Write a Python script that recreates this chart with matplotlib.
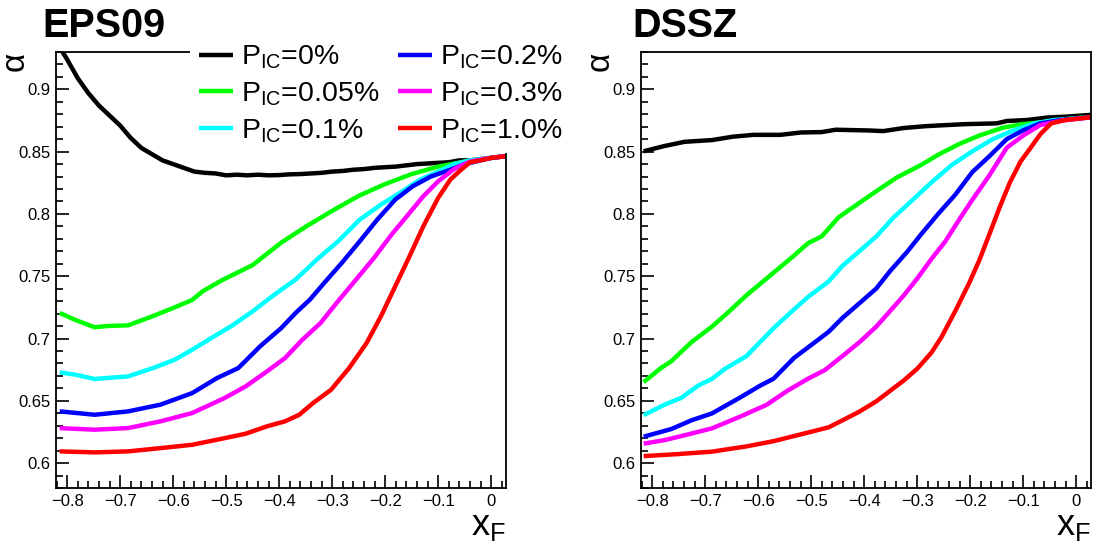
import numpy as np
import matplotlib
matplotlib.use("Agg")
import matplotlib.pyplot as plt
from matplotlib.ticker import MultipleLocator, FuncFormatter

plt.rcParams['font.family'] = ['Liberation Sans', 'DejaVu Sans']
plt.rcParams['mathtext.fontset'] = 'custom'
plt.rcParams['mathtext.rm'] = 'Liberation Sans'
plt.rcParams['mathtext.it'] = 'Liberation Sans:italic'
plt.rcParams['mathtext.bf'] = 'Liberation Sans:bold'
plt.rcParams['mathtext.default'] = 'regular'

# ---- data ----
labels = ["P$_{IC}$=0%", "P$_{IC}$=0.05%", "P$_{IC}$=0.1%",
          "P$_{IC}$=0.2%", "P$_{IC}$=0.3%", "P$_{IC}$=1.0%"]
colors = ["#000000", "#00ff00", "#00ffff", "#0000ff", "#ff00ff", "#ff0000"]

# EPS09 panel
eps_x_0 = [-0.82, -0.81, -0.80, -0.78, -0.76, -0.74, -0.72, -0.70, -0.68, -0.66, -0.64,
           -0.62, -0.60, -0.58, -0.56, -0.54, -0.52, -0.50, -0.48, -0.46, -0.44, -0.42,
           -0.40, -0.38, -0.36, -0.34, -0.32, -0.30, -0.28, -0.26, -0.24, -0.22, -0.20,
           -0.18, -0.16, -0.14, -0.12, -0.10, -0.08, -0.06, -0.04, -0.02, 0.0, 0.02, 0.03]
eps_y_0 = [0.938, 0.931, 0.924, 0.909, 0.897, 0.887, 0.879, 0.871, 0.861, 0.853, 0.848,
           0.843, 0.840, 0.837, 0.834, 0.833, 0.8325, 0.831, 0.8315, 0.831, 0.8315, 0.831,
           0.8312, 0.8318, 0.832, 0.8325, 0.833, 0.834, 0.8345, 0.8355, 0.836, 0.837, 0.8375,
           0.838, 0.839, 0.840, 0.8405, 0.841, 0.8415, 0.843, 0.843, 0.844, 0.845, 0.846, 0.8465]

eps_x_005 = [-0.814, -0.785, -0.748, -0.725, -0.685, -0.638, -0.600, -0.564, -0.544, -0.507,
             -0.483, -0.450, -0.396, -0.349, -0.302, -0.250, -0.200, -0.150, -0.100, -0.050,
             0.0, 0.03]
eps_y_005 = [0.7205, 0.715, 0.709, 0.710, 0.7106, 0.718, 0.7245, 0.731, 0.738, 0.747,
             0.752, 0.759, 0.777, 0.790, 0.802, 0.8145, 0.824, 0.832, 0.838, 0.842,
             0.845, 0.8465]

eps_x_01 = [-0.814, -0.785, -0.748, -0.725, -0.685, -0.638, -0.597, -0.564, -0.523, -0.490,
            -0.450, -0.409, -0.369, -0.329, -0.289, -0.248, -0.208, -0.168, -0.134, -0.100,
            -0.070, -0.040, 0.0, 0.03]
eps_y_01 = [0.6728, 0.671, 0.6675, 0.6683, 0.6696, 0.6763, 0.683, 0.691, 0.7017, 0.710,
            0.7218, 0.7352, 0.7473, 0.7633, 0.778, 0.7954, 0.8075, 0.818, 0.8276, 0.834,
            0.840, 0.843, 0.845, 0.8465]

eps_x_02 = [-0.814, -0.748, -0.685, -0.624, -0.564, -0.517, -0.477, -0.436, -0.396, -0.369,
            -0.342, -0.315, -0.282, -0.248, -0.215, -0.181, -0.148, -0.114, -0.080, -0.050,
            -0.020, 0.0, 0.03]
eps_y_02 = [0.6415, 0.6388, 0.6415, 0.6469, 0.6562, 0.6683, 0.6763, 0.6937, 0.7084, 0.7205,
            0.7312, 0.7446, 0.7606, 0.778, 0.7954, 0.8115, 0.8222, 0.8300, 0.835, 0.840,
            0.843, 0.845, 0.8465]

eps_x_03 = [-0.814, -0.748, -0.685, -0.624, -0.564, -0.503, -0.463, -0.423, -0.389, -0.356,
            -0.322, -0.289, -0.255, -0.221, -0.188, -0.154, -0.128, -0.100, -0.070, -0.040,
            -0.015, 0.0, 0.03]
eps_y_03 = [0.6281, 0.6268, 0.6281, 0.6335, 0.6402, 0.6522, 0.6616, 0.6736, 0.6843, 0.6991,
            0.7124, 0.7299, 0.7473, 0.7647, 0.7834, 0.8008, 0.8142, 0.8262, 0.836, 0.842,
            0.844, 0.845, 0.8465]

eps_x_10 = [-0.814, -0.748, -0.685, -0.624, -0.564, -0.503, -0.463, -0.423, -0.389, -0.362,
            -0.336, -0.302, -0.268, -0.235, -0.208, -0.181, -0.154, -0.128, -0.100, -0.077,
            -0.058, -0.040, -0.015, 0.0, 0.03]
eps_y_10 = [0.6094, 0.6086, 0.6094, 0.612, 0.6147, 0.620, 0.6236, 0.6295, 0.6335, 0.6388,
            0.6482, 0.6589, 0.6763, 0.6964, 0.7178, 0.7419, 0.766, 0.7901, 0.8129, 0.8276,
            0.835, 0.8414, 0.8435, 0.845, 0.8465]

# DSSZ panel
dssz_x_0 = [-0.816, -0.777, -0.739, -0.687, -0.648, -0.609, -0.558, -0.519, -0.480, -0.454,
            -0.390, -0.364, -0.325, -0.286, -0.247, -0.209, -0.150, -0.131, -0.093, -0.054,
            -0.015, 0.03]
dssz_y_0 = [0.8503, 0.8545, 0.8579, 0.8593, 0.862, 0.8635, 0.8635, 0.8654, 0.8657, 0.8676,
            0.867, 0.8665, 0.869, 0.8704, 0.8713, 0.8721, 0.8727, 0.8746, 0.8754, 0.8774,
            0.8782, 0.8796]

dssz_x_005 = [-0.816, -0.784, -0.764, -0.726, -0.687, -0.661, -0.622, -0.571, -0.532, -0.506,
              -0.480, -0.448, -0.415, -0.377, -0.338, -0.293, -0.260, -0.222, -0.183, -0.138,
              -0.100, -0.054, -0.002, 0.03]
dssz_y_005 = [0.665, 0.6761, 0.6817, 0.697, 0.7096, 0.7193, 0.7347, 0.7528, 0.7667, 0.7765,
              0.782, 0.7974, 0.8071, 0.8183, 0.8294, 0.8392, 0.8476, 0.8559, 0.8629, 0.8693,
              0.8721, 0.8741, 0.8768, 0.8777]

dssz_x_01 = [-0.816, -0.777, -0.745, -0.713, -0.687, -0.661, -0.622, -0.571, -0.532, -0.506,
             -0.467, -0.441, -0.403, -0.377, -0.344, -0.312, -0.273, -0.235, -0.196, -0.157,
             -0.118, -0.079, -0.041, 0.03]
dssz_y_01 = [0.6385, 0.6468, 0.6524, 0.6622, 0.6677, 0.6761, 0.6859, 0.7082, 0.7235, 0.7333,
             0.7458, 0.7583, 0.7723, 0.782, 0.7974, 0.8099, 0.8253, 0.8392, 0.8503, 0.8601,
             0.8671, 0.8727, 0.8754, 0.8777]

dssz_x_02 = [-0.816, -0.764, -0.726, -0.687, -0.635, -0.596, -0.571, -0.532, -0.493, -0.467,
             -0.441, -0.403, -0.377, -0.351, -0.319, -0.293, -0.260, -0.228, -0.196, -0.164,
             -0.131, -0.100, -0.068, -0.028, 0.03]
dssz_y_02 = [0.6212, 0.6273, 0.6343, 0.6399, 0.6524, 0.6622, 0.6677, 0.6845, 0.697, 0.7054,
             0.7165, 0.7305, 0.7402, 0.7542, 0.7695, 0.7834, 0.8002, 0.8155, 0.8336, 0.8462,
             0.8601, 0.8671, 0.8727, 0.8754, 0.8777]

dssz_x_03 = [-0.816, -0.777, -0.739, -0.687, -0.635, -0.584, -0.545, -0.506, -0.474, -0.441,
             -0.409, -0.377, -0.351, -0.325, -0.299, -0.273, -0.247, -0.222, -0.196, -0.164,
             -0.131, -0.100, -0.068, -0.028, 0.03]
dssz_y_03 = [0.6156, 0.6184, 0.6223, 0.6279, 0.6371, 0.6468, 0.658, 0.6677, 0.6747, 0.6859,
             0.697, 0.7096, 0.7221, 0.7347, 0.7486, 0.7639, 0.7779, 0.7946, 0.8113, 0.8308,
             0.8531, 0.8629, 0.8713, 0.8749, 0.8777]

dssz_x_10 = [-0.816, -0.752, -0.687, -0.622, -0.571, -0.519, -0.467, -0.441, -0.409, -0.377,
             -0.351, -0.325, -0.299, -0.273, -0.254, -0.228, -0.202, -0.183, -0.164, -0.144,
             -0.125, -0.105, -0.086, -0.067, -0.047, -0.021, 0.03]
dssz_y_10 = [0.6056, 0.6072, 0.6092, 0.6134, 0.6176, 0.6231, 0.6287, 0.6343, 0.6413, 0.6496,
             0.658, 0.6664, 0.6761, 0.6887, 0.7012, 0.7221, 0.7444, 0.7625, 0.7834, 0.8057,
             0.8253, 0.842, 0.8531, 0.8643, 0.8727, 0.8754, 0.8777]

eps_curves = [(eps_x_0, eps_y_0), (eps_x_005, eps_y_005), (eps_x_01, eps_y_01),
              (eps_x_02, eps_y_02), (eps_x_03, eps_y_03), (eps_x_10, eps_y_10)]
dssz_curves = [(dssz_x_0, dssz_y_0), (dssz_x_005, dssz_y_005), (dssz_x_01, dssz_y_01),
               (dssz_x_02, dssz_y_02), (dssz_x_03, dssz_y_03), (dssz_x_10, dssz_y_10)]

W, H = 1097, 544
fig = plt.figure(figsize=(W / 100, H / 100), dpi=100)
ax1 = fig.add_axes([56 / W, 56 / H, 450 / W, 436 / H])
ax2 = fig.add_axes([641 / W, 56 / H, 450 / W, 436 / H])


def fmt(v, pos):
    s = f"{round(v, 3):g}"
    if s == "-0":
        s = "0"
    return s.replace("-", "\u2212")


for ax, curves in [(ax1, eps_curves), (ax2, dssz_curves)]:
    for (x, y), c, lab in zip(curves, colors, labels):
        ax.plot(x, y, color=c, lw=3.2, label=lab, solid_capstyle='butt')
    ax.set_xlim(-0.821, 0.028)
    ax.set_ylim(0.58, 0.93)
    ax.xaxis.set_major_locator(MultipleLocator(0.1))
    ax.xaxis.set_minor_locator(MultipleLocator(0.02))
    ax.yaxis.set_major_locator(MultipleLocator(0.05))
    ax.yaxis.set_minor_locator(MultipleLocator(0.01))
    ax.xaxis.set_major_formatter(FuncFormatter(fmt))
    ax.yaxis.set_major_formatter(FuncFormatter(fmt))
    ax.tick_params(which='both', direction='in', top=False, right=False,
                   labelsize=12, width=1.2)
    ax.tick_params(which='major', length=9.5, pad=4)
    ax.tick_params(which='minor', length=5)
    for sp in ax.spines.values():
        sp.set_linewidth(1.3)
    ax.set_xlabel("x$_F$", fontsize=26, loc='right')
    ax.xaxis.set_label_coords(1.0, -0.045)
    ax.set_ylabel("\u03b1", fontsize=24, loc='top')
    ax.yaxis.set_label_coords(-0.057, 1.0)

ax1.legend(ncol=2, loc='upper left', bbox_to_anchor=(0.298, 1.039), fontsize=20.5,
           frameon=True, facecolor='white', edgecolor='none', framealpha=1,
           fancybox=False, borderpad=0.3, handlelength=1.2, handletextpad=0.3,
           columnspacing=0.63, labelspacing=0.33, borderaxespad=0)

fig.text(42 / W, 1 - 37 / H, "EPS09", fontsize=28.5, fontweight='bold', va='baseline')
fig.text(632 / W, 1 - 37 / H, "DSSZ", fontsize=28.5, fontweight='bold', va='baseline')

fig.savefig("out.png", dpi=100)
